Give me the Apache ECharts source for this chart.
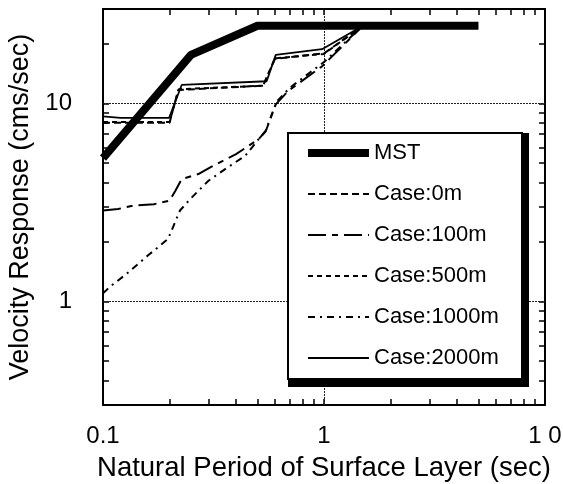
<!DOCTYPE html>
<html>
<head>
<meta charset="utf-8">
<script src="https://cdn.jsdelivr.net/npm/echarts@6/dist/echarts.min.js"></script>
<style>
html, body { margin: 0; padding: 0; background: #fff; }
#main { width: 563px; height: 484px; }
</style>
</head>
<body>
<div id="main"></div>
<script>
// periods (sec) and velocity response (cms/sec)
var periodMST = [0.1, 0.25, 0.5, 5];
var velMST = [5.3, 17.6, 24.7, 24.7];

var period0m = [0.1, 0.2, 0.219, 0.53, 0.6, 1.0, 1.5];
var vel0m = [8.0, 8.0, 11.7, 12.3, 16.8, 17.9, 24.7];

var period100m = [0.1, 0.117, 0.137, 0.17, 0.2, 0.212, 0.227, 0.27, 0.31, 0.4, 0.506, 0.545, 0.605, 0.69, 0.98, 1.5];
var vel100m = [2.88, 2.93, 3.05, 3.1, 3.23, 3.6, 4.15, 4.4, 4.8, 5.55, 6.6, 7.24, 9.9, 11.6, 15.4, 24.7];

var period500m = [0.1, 0.2, 0.22, 0.53, 0.6, 1.0, 1.5];
var vel500m = [8.05, 8.05, 11.8, 12.3, 16.9, 17.8, 24.7];

var period1000m = [0.1, 0.11, 0.128, 0.16, 0.197, 0.212, 0.223, 0.248, 0.3, 0.357, 0.44, 0.506, 0.545, 0.61, 0.7, 1.0, 1.5];
var vel1000m = [1.1, 1.21, 1.38, 1.71, 2.07, 2.52, 2.88, 3.29, 4.07, 4.66, 5.44, 6.6, 7.3, 10.2, 12.0, 16.2, 24.7];

var period2000m = [0.1, 0.12, 0.199, 0.227, 0.55, 0.605, 0.98, 1.5];
var vel2000m = [8.6, 8.45, 8.45, 12.4, 12.95, 17.6, 18.8, 24.7];

var xTickValues = [0.2, 0.3, 0.4, 0.5, 0.6, 0.7, 0.8, 0.9, 1, 2, 3, 4, 5, 6, 7, 8, 9];
var yTickValues = [0.4, 0.5, 0.6, 0.7, 0.8, 0.9, 1, 2, 3, 4, 5, 6, 7, 8, 9, 10, 20];
var xLabelValues = [0.1, 1, 10];
var yLabelValues = [1, 10];

var font = 'Liberation Sans, Arial, Helvetica, sans-serif';

function pairs(xs, ys) {
    var out = [];
    for (var i = 0; i < xs.length; i++) out.push([xs[i], ys[i]]);
    return out;
}

var chart = echarts.init(document.getElementById('main'));

function caseLine(name, xs, ys, width, dash) {
    return {
        name: name,
        type: 'line',
        data: pairs(xs, ys),
        symbol: 'none',
        xAxisIndex: 0,
        yAxisIndex: 0,
        lineStyle: { color: '#000', width: width, type: dash },
        itemStyle: { color: '#000' },
        emphasis: { disabled: true },
        z: 3
    };
}

function boxAxis(pos, isX) {
    return {
        type: 'log',
        logBase: 10,
        min: isX ? 0.1 : 0.3,
        max: isX ? 10 : 30,
        position: pos,
        axisLine: { show: true, onZero: false, lineStyle: { color: '#000', width: 2 } },
        axisTick: {
            show: true, inside: true, length: 6,
            customValues: isX ? xTickValues : yTickValues,
            lineStyle: { color: '#000', width: 1.5 }
        },
        axisLabel: { show: false },
        splitLine: { show: false }
    };
}

var option = {
    backgroundColor: '#fff',
    animation: false,
    grid: { left: 103, right: 18, top: 9, bottom: 79, containLabel: false, outerBoundsMode: 'none' },
    xAxis: [{
        type: 'log',
        logBase: 10,
        min: 0.1,
        max: 10,
        position: 'bottom',
        name: 'Natural Period of Surface Layer (sec)',
        nameLocation: 'middle',
        nameGap: 49,
        nameTextStyle: { fontFamily: font, fontSize: 27.5, color: '#000' },
        axisLine: { show: true, onZero: false, lineStyle: { color: '#000', width: 2 } },
        axisTick: {
            show: true, inside: true, length: 6,
            customValues: xTickValues,
            lineStyle: { color: '#000', width: 1.5 }
        },
        axisLabel: {
            customValues: xLabelValues,
            margin: 19,
            fontFamily: font, fontSize: 24, color: '#000',
            formatter: function (v) {
                if (Math.abs(v - 10) < 1e-6) return '1 0';
                if (Math.abs(v - 1) < 1e-6) return '1';
                return '0.1';
            }
        },
        splitLine: { show: false }
    }, boxAxis('top', true)],
    yAxis: [{
        type: 'log',
        logBase: 10,
        min: 0.3,
        max: 30,
        position: 'left',
        name: 'Velocity Response (cms/sec)',
        nameLocation: 'middle',
        nameGap: 68,
        nameTextStyle: { fontFamily: font, fontSize: 27, color: '#000' },
        axisLine: { show: true, onZero: false, lineStyle: { color: '#000', width: 2 } },
        axisTick: {
            show: true, inside: true, length: 6,
            customValues: yTickValues,
            lineStyle: { color: '#000', width: 1.5 }
        },
        axisLabel: {
            customValues: yLabelValues,
            margin: 31,
            fontFamily: font, fontSize: 24, color: '#000',
            formatter: function (v) {
                return Math.abs(v - 10) < 1e-6 ? '10' : '1';
            }
        },
        splitLine: { show: false }
    }, boxAxis('right', false)],
    // legend frame: thin border on left/top, heavy edge right/bottom
    graphic: [{
        type: 'rect',
        z: 5,
        silent: true,
        shape: { x: 288, y: 133, width: 241, height: 254 },
        style: { fill: '#000' }
    }, {
        type: 'rect',
        z: 6,
        silent: true,
        shape: { x: 288, y: 133, width: 234, height: 246 },
        style: { fill: '#fff', stroke: '#000', lineWidth: 2 }
    }],
    legend: {
        orient: 'vertical',
        left: 288,
        top: 133,
        data: ['MST', 'Case:0m', 'Case:100m', 'Case:500m', 'Case:1000m', 'Case:2000m'],
        itemWidth: 61,
        itemHeight: 14,
        itemGap: 17,
        padding: [8, 10, 8, 16],
        backgroundColor: 'transparent',
        borderWidth: 0,
        selectedMode: false,
        itemStyle: { opacity: 0 },
        lineStyle: { width: 'inherit', type: 'inherit', color: '#000' },
        textStyle: { fontFamily: font, fontSize: 22, color: '#000', lineHeight: 24 },
        z: 10
    },
    series: [
        Object.assign(caseLine('MST', periodMST, velMST, 8, 'solid'), {
            markLine: {
                silent: true,
                symbol: 'none',
                label: { show: false },
                lineStyle: { color: '#222', width: 1, type: [2, 1] },
                data: [{ xAxis: 1 }, { yAxis: 1 }, { yAxis: 10 }],
                z: 1
            }
        }),
        caseLine('Case:0m', period0m, vel0m, 2, [7, 4]),
        caseLine('Case:100m', period100m, vel100m, 2, [18, 6, 6, 6]),
        caseLine('Case:500m', period500m, vel500m, 2, [5, 4]),
        caseLine('Case:1000m', period1000m, vel1000m, 2, [7, 5, 2, 5]),
        caseLine('Case:2000m', period2000m, vel2000m, 1.8, 'solid')
    ]
};

chart.setOption(option);
</script>
</body>
</html>
